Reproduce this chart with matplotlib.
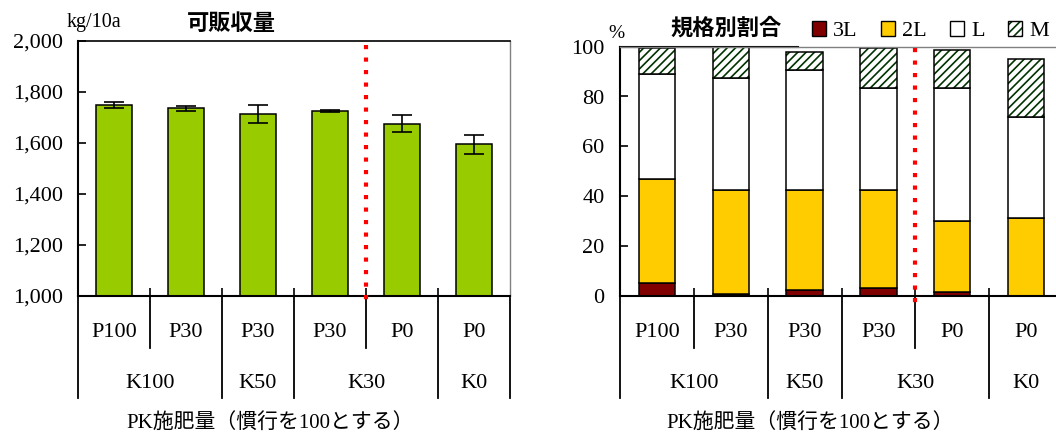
import matplotlib
matplotlib.use('Agg')
import matplotlib.pyplot as plt
from matplotlib.patches import Patch
from matplotlib.legend_handler import HandlerTuple

plt.rcParams['font.family'] = ['Liberation Serif', 'Noto Sans CJK JP']
plt.rcParams['hatch.linewidth'] = 1.2

# カテゴリ（P施肥量 / K施肥量）
p_labels = ['P100', 'P30', 'P30', 'P30', 'P0', 'P0']
k_labels = ['K100', 'K50', 'K30', 'K0']
k_centers = [0.5, 2, 3.5, 5]
short_div = [0.5, 3.5]
long_div = [-0.5, 1.5, 2.5, 4.5, 5.5]

# 可販収量 (kg/10a)
yield_mean = [1750, 1735, 1713, 1727, 1676, 1594]
yield_err = [12, 8, 35, 4, 33, 37]
yield_ticks = [1000, 1200, 1400, 1600, 1800, 2000]

# 規格別割合 (%)
share_3l = [5.2, 0.7, 2.2, 3.0, 1.4, 0.0]
share_2l = [41.8, 41.7, 40.2, 39.4, 28.6, 31.3]
share_l = [41.9, 45.0, 48.1, 41.1, 53.4, 40.3]
share_m = [10.6, 12.6, 7.5, 15.9, 15.3, 23.4]
share_ticks = [0, 20, 40, 60, 80, 100]

xlabel = 'PK施肥量（慣行を100とする）'
c_green = '#99CC00'
c_3l = '#800000'
c_2l = '#FFCC00'
c_hatch = '#003300'
fs = 16

W, H = 1056, 436
fig = plt.figure(figsize=(W / 100, H / 100), dpi=100)
ax1 = fig.add_axes([78 / W, 1 - 295.7 / H, 432 / W, 254.7 / H])
ax2 = fig.add_axes([620 / W, 1 - 295.7 / H, 443 / W, 249 / H])
x = range(len(p_labels))


def group_axis(ax, label_x):
    h = ax.get_position().height * H
    tr = ax.get_xaxis_transform()
    for d in long_div:
        ax.plot([d, d], [0, -102 / h], color='black', lw=1.3, transform=tr, clip_on=False)
    for d in short_div:
        ax.plot([d, d], [0, -52 / h], color='black', lw=1.3, transform=tr, clip_on=False)
    for i, t in enumerate(p_labels):
        ax.text(i, -37 / h, t, ha='center', va='center', transform=tr, fontsize=fs)
    for c, t in zip(k_centers, k_labels):
        ax.text(c, -88 / h, t, ha='center', va='center', transform=tr, fontsize=fs)
    ax.text(label_x, -127 / h, xlabel, ha='center', va='center',
            transform=ax.transAxes, fontsize=15)
    ax.set_xlim(-0.5, 5.5)
    ax.set_xticks([0.5, 1.5, 2.5, 3.5, 4.5])
    ax.set_xticklabels([])
    ax.tick_params(axis='x', direction='in', length=6, width=1.2)
    ax.tick_params(axis='y', direction='in', length=6, width=1.2, pad=11, labelsize=fs)


def red_line(ax, top, bottom):
    ax.plot([3.5, 3.5], [top, bottom], color='#FF0000', lw=3, ls=(0, (1, 2)),
            transform=ax.get_xaxis_transform(), clip_on=False, zorder=5)


# 左：可販収量
ax1.bar(x, [m - 1000 for m in yield_mean], bottom=1000, width=0.49, color=c_green,
        edgecolor='black', lw=1.1)
ax1.errorbar(x, yield_mean, yerr=yield_err, fmt='none', ecolor='black',
             elinewidth=1.2, capsize=7, capthick=1.2)
ax1.set_ylim(1000, 2000)
ax1.set_yticks(yield_ticks)
ax1.set_yticklabels([f'{v:,}' for v in yield_ticks])
group_axis(ax1, 0.445)
red_line(ax1, 0.984, -0.025)
for s in ['left', 'bottom']:
    ax1.spines[s].set_linewidth(1.5)
ax1.spines['top'].set_linewidth(1.2)
ax1.spines['right'].set_color('#808080')
ax1.spines['right'].set_linewidth(1.0)

# 右：規格別割合
b1 = share_3l
b2 = [a + b for a, b in zip(b1, share_2l)]
b3 = [a + b for a, b in zip(b2, share_l)]
ax2.bar(x, share_3l, width=0.49, color=c_3l, edgecolor='black', lw=1.1)
ax2.bar(x, share_2l, bottom=b1, width=0.49, color=c_2l, edgecolor='black', lw=1.1)
ax2.bar(x, share_l, bottom=b2, width=0.49, color='white', edgecolor='black', lw=1.1)
ax2.bar(x, share_m, bottom=b3, width=0.49, color='white', edgecolor=c_hatch,
        hatch='////', lw=0)
ax2.bar(x, share_m, bottom=b3, width=0.49, color='none', edgecolor='black', lw=1.1)
ax2.set_ylim(0, 100)
ax2.set_yticks(share_ticks)
group_axis(ax2, 0.43)
red_line(ax2, 0.995, -0.03)
for s in ['left', 'bottom']:
    ax2.spines[s].set_linewidth(1.5)
ax2.spines['top'].set_color('#808080')
ax2.spines['top'].set_linewidth(1.0)
ax2.axhline(100, xmin=0, xmax=178 / 443, color='black', lw=1.5, clip_on=False)

# タイトル・単位
fig.text(231 / W, 1 - 23 / H, '可販収量', ha='center', va='center', fontsize=16,
         fontweight='bold', family='Noto Sans CJK JP')
fig.text(94 / W, 1 - 22 / H, 'kg/10a', ha='center', va='center', fontsize=14.5)
fig.text(726 / W, 1 - 28 / H, '規格別割合', ha='center', va='center', fontsize=16,
         fontweight='bold', family='Noto Sans CJK JP')
fig.text(616 / W, 1 - 33 / H, '%', ha='center', va='center', fontsize=14)

handles = [Patch(facecolor=c_3l, edgecolor='black'),
           Patch(facecolor=c_2l, edgecolor='black'),
           Patch(facecolor='white', edgecolor='black'),
           (Patch(facecolor='white', edgecolor=c_hatch, hatch='////', lw=0),
            Patch(facecolor='none', edgecolor='black'))]
fig.legend(handles, ['3L', '2L', 'L', 'M'], handler_map={tuple: HandlerTuple(ndivide=1, pad=0)},
           ncol=4, loc='center left', bbox_to_anchor=(812 / W, 1 - 31 / H), frameon=False,
           fontsize=fs, handlelength=0.65, handleheight=0.65, handletextpad=0.3,
           columnspacing=1.05, borderpad=0, borderaxespad=0)

fig.savefig('out.png', dpi=100)
